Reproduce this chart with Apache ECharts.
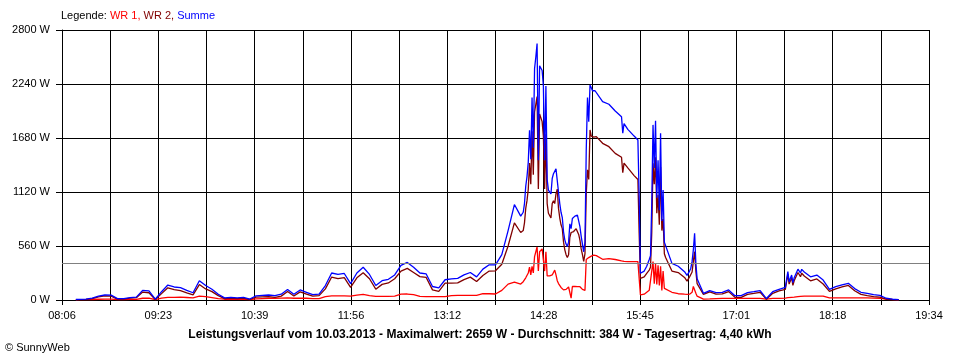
<!DOCTYPE html>
<html><head><meta charset="utf-8">
<script src="https://cdn.jsdelivr.net/npm/echarts@6/dist/echarts.min.js"></script>
<style>html,body{margin:0;padding:0;background:#fff}#c{width:960px;height:360px}</style>
</head><body><div id="c"></div>
<script>
// ---- axis definitions ----
const startTime = '08:06';
const endTime = '19:34';
const xTickLabels = ['08:06','09:23','10:39','11:56','13:12','14:28','15:45','17:01','18:18','19:34'];
const yMax = 2800;
const yStep = 560;
const average = 384;
const titleText = 'Leistungsverlauf vom 10.03.2013 - Maximalwert: 2659 W - Durchschnitt: 384 W - Tagesertrag: 4,40 kWh';

// ---- data ----
const times = [
 '08:17','08:20','08:25','08:30','08:35','08:40','08:45','08:50','08:55',
 '09:00','09:05','09:10','09:15','09:20','09:25','09:30','09:35','09:40','09:45','09:50','09:55',
 '10:00','10:05','10:10','10:15','10:20','10:25','10:30','10:35','10:40','10:45','10:50','10:55',
 '11:00','11:05','11:10','11:15','11:20','11:25','11:30','11:35','11:40','11:45','11:50','11:55',
 '12:00','12:05','12:10','12:15','12:20','12:25','12:30','12:35','12:40','12:45','12:50','12:55',
 '13:00','13:05','13:10','13:15','13:20','13:25','13:30','13:35','13:40','13:45','13:50','13:55',
 '14:00','14:05','14:10',
 '14:11','14:12','14:13','14:14','14:15','14:16','14:17','14:18','14:19','14:20',
 '14:21','14:22','14:23','14:24','14:25','14:26','14:27','14:28','14:29','14:30',
 '14:31','14:32','14:33','14:34','14:35','14:36','14:37','14:38','14:39','14:40',
 '14:41','14:42','14:43','14:44','14:45','14:46','14:47','14:48','14:49','14:50',
 '14:51','14:52','14:53','14:54','14:55','14:56','14:57','14:58','14:59','15:00',
 '15:01','15:02','15:03','15:04','15:05','15:06','15:07','15:08','15:09','15:10',
 '15:15','15:20','15:25','15:30','15:31','15:32','15:35','15:40','15:43',
 '15:44','15:45','15:46','15:48','15:50','15:52','15:53',
 '15:54','15:55','15:56','15:57','15:58','15:59','16:00','16:01','16:02','16:03','16:04','16:05',
 '16:10','16:15','16:20','16:22','16:24','16:25','16:26','16:27','16:28','16:29','16:30',
 '16:35','16:40','16:45','16:50','16:55','17:00','17:05','17:10','17:15','17:20','17:25','17:30','17:35','17:40',
 '17:42','17:43','17:45','17:46','17:47','17:48','17:50','17:52','17:53','17:55',
 '18:00','18:05','18:10','18:15','18:20','18:25','18:30','18:35','18:40','18:45','18:50','18:55',
 '19:00','19:05','19:10'
];
const wr1 = [
 2,3,3,5,8,10,10,4,4,
 6,6,18,20,3,20,28,28,30,26,22,40,
 35,25,15,8,8,7,8,5,12,15,18,18,
 20,22,18,20,18,15,15,35,42,43,43,40,
 50,58,45,38,38,38,40,60,62,55,38,36,
 35,35,36,45,48,48,48,48,65,65,62,100,
 165,185,165,
 180,190,200,230,250,280,340,260,350,280,
 450,500,550,300,500,480,530,520,300,500,
 250,240,250,250,260,280,310,260,200,170,
 150,130,115,105,104,110,120,135,140,20,
 140,140,140,140,138,138,138,130,110,104,
 100,420,430,440,450,455,460,465,467,460,
 422,430,420,405,400,400,398,398,398,
 390,52,52,60,80,100,110,
 300,398,170,380,160,360,150,350,100,300,120,121,
 80,65,60,59,60,65,80,140,156,70,40,
 10,12,15,17,17,17,17,17,17,17,8,17,17,20,
 25,25,28,28,30,30,35,38,40,41,
 41,41,41,22,22,22,22,22,22,22,20,18,
 8,3,1
];
const wr2 = [
 3,4,7,15,33,42,40,10,10,
 19,24,82,75,5,66,127,107,98,74,53,160,
 115,87,45,14,20,15,20,5,30,33,34,27,
 40,88,42,84,62,40,45,115,238,222,232,130,
 230,282,220,112,162,177,220,300,328,285,242,234,
 105,90,174,175,177,212,237,192,255,300,303,370,
 560,800,700,
 700,720,800,950,1030,1150,1420,1200,1750,1300,
 1950,2030,2110,1150,1930,1950,1850,1700,1150,1720,
 1000,900,880,850,1000,1030,1000,1100,1150,950,
 850,780,740,600,520,470,440,470,650,700,
 700,710,730,740,730,680,620,530,470,400,
 480,1100,1350,1250,1763,1700,1700,1690,1700,1694,
 1625,1590,1521,1480,1320,1420,1370,1290,1250,
 695,225,225,240,277,310,340,
 700,1418,1200,1480,900,1090,780,1380,720,840,480,440,
 300,285,234,196,240,265,290,400,501,300,170,
 59,85,61,63,87,28,28,59,69,80,7,69,94,111,
 269,165,231,152,200,195,285,242,278,249,
 199,218,166,89,116,136,151,96,58,46,35,30,
 10,5,2
];
const summe = [
 5,7,10,20,41,52,50,14,14,
 25,30,100,95,8,86,155,135,128,100,75,200,
 150,112,60,22,28,22,28,10,42,48,52,45,
 60,110,60,104,80,55,60,150,280,265,275,170,
 280,340,265,150,200,215,260,360,390,340,280,270,
 140,125,210,220,225,260,285,240,320,365,365,470,
 720,990,870,
 880,910,1000,1180,1280,1430,1760,1460,2100,1580,
 2400,2520,2659,1450,2430,2440,2380,2220,1450,2220,
 1250,1140,1130,1100,1260,1310,1310,1360,1350,1120,
 1000,910,855,705,624,580,555,600,790,740,
 845,850,870,885,880,820,760,660,580,500,
 600,1550,2100,1850,2230,2200,2170,2150,2170,2160,
 2057,2030,1960,1900,1729,1830,1770,1700,1659,
 1080,277,277,300,350,420,460,
 1000,1816,1370,1860,1060,1450,930,1729,820,1140,600,588,
 380,350,294,255,300,330,400,520,692,380,220,
 69,97,76,80,104,45,45,76,86,97,15,86,111,131,
 294,190,259,180,230,225,320,280,318,290,
 240,259,207,111,138,158,173,118,80,68,55,48,
 18,8,3
];

// ---- build ----
function toMin(t){const p=t.split(':');return (+p[0])*60+(+p[1]);}
const t0 = toMin(startTime);
const span = toMin(endTime) - t0;      // minutes on the axis
const nTicks = (xTickLabels.length - 1) * 2;
const xInterval = span / nTicks;
function pts(vals){return times.map((t,i)=>[toMin(t)-t0, vals[i]]);}

const FONT = 'Liberation Sans, Arial, sans-serif';
const chart = echarts.init(document.getElementById('c'), null, {renderer:'canvas'});
const lineSeries = (name, color, vals, extra) => Object.assign({
  name, type:'line', data: pts(vals), showSymbol:false, symbol:'none',
  lineStyle:{color, width:1.3}, itemStyle:{color}, animation:false, silent:true
}, extra || {});

chart.setOption({
  backgroundColor:'#ffffff',
  animation:false,
  grid:{left:62, right:31, top:30, bottom:60, containLabel:false},
  xAxis:{
    type:'value', min:0, max:span, interval:xInterval,
    axisLine:{show:true, lineStyle:{color:'#000', width:1}},
    axisTick:{show:true, length:5, lineStyle:{color:'#000'}},
    splitLine:{show:true, lineStyle:{color:'#000', width:1}},
    axisLabel:{
      color:'#000', fontSize:11, fontFamily:FONT, margin:10,
      showMinLabel:true, showMaxLabel:true,
      formatter:function(v){
        const i = Math.round(v / xInterval);
        return (i % 2 === 0) ? (xTickLabels[i/2] || '') : '';
      }
    }
  },
  yAxis:{
    type:'value', min:0, max:yMax, interval:yStep,
    axisLine:{show:true, lineStyle:{color:'#000', width:1}},
    axisTick:{show:true, length:6, lineStyle:{color:'#000'}},
    splitLine:{show:true, lineStyle:{color:'#000', width:1}},
    axisLabel:{color:'#000', fontSize:11, fontFamily:FONT, margin:12,
      formatter:function(v){return v + ' W';}}
  },
  series:[
    lineSeries('Durchschnitt', '#808080', [], {
      data:[], markLine:{silent:true, symbol:['none','none'], label:{show:false},
        lineStyle:{color:'#808080', width:1, type:'solid'}, data:[{yAxis:average}], animation:false}
    }),
    lineSeries('WR 1', '#ff0000', wr1),
    lineSeries('WR 2', '#800000', wr2),
    lineSeries('Summe', '#0000ff', summe)
  ],
  graphic:[
    {type:'text', left:61, top:10, style:{
      text:'{k|Legende:} {a|WR 1,} {b|WR 2,} {c|Summe}',
      font:'11px ' + FONT,
      rich:{
        k:{fill:'#000', fontSize:11, fontFamily:FONT},
        a:{fill:'#ff0000', fontSize:11, fontFamily:FONT},
        b:{fill:'#800000', fontSize:11, fontFamily:FONT},
        c:{fill:'#0000ff', fontSize:11, fontFamily:FONT}
      }
    }},
    {type:'text', left:'center', top:329, style:{
      text:titleText, fill:'#000', font:'bold 12px ' + FONT
    }},
    {type:'text', left:5, top:342, style:{
      text:'\u00A9 SunnyWeb', fill:'#000', font:'11px ' + FONT
    }}
  ]
});
</script></body></html>
